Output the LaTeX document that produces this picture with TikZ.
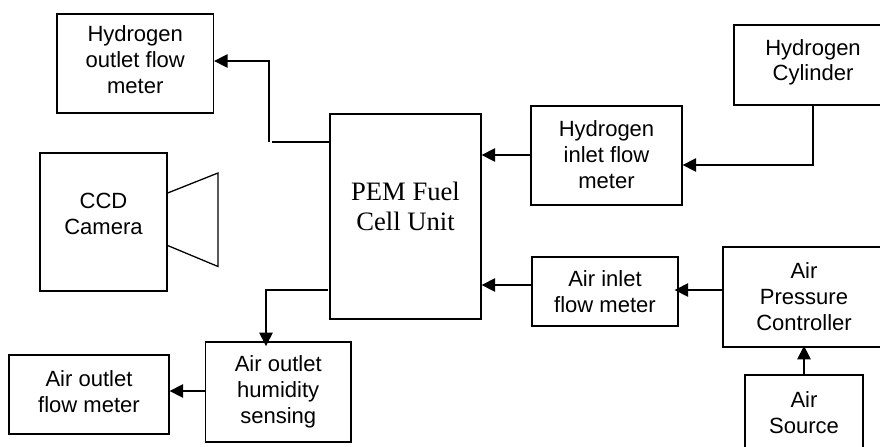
\documentclass[tikz,border=0pt]{standalone}
\usepackage{fontspec}
\setmainfont{Liberation Sans}
\newfontfamily\pemfont{Liberation Serif}
\usetikzlibrary{arrows.meta}

\begin{document}
\begin{tikzpicture}[
  x=0.03cm, y=-0.03cm,
  font=\fontsize{18.8}{22.1}\selectfont,
  blocco/.style={draw=black, line width=1.1pt, align=center, inner sep=0pt},
  linea/.style={draw=black, line width=1.1pt},
  freccia/.style={draw=black, line width=1.2pt, -{Triangle[length=11.5pt,width=11.5pt]}}
]
\clip (0,0) rectangle (880,446);

\node[blocco, minimum width=4.695cm, minimum height=2.97cm, text depth=6.5pt] (hout) at (135.25,63.5) {Hydrogen\\outlet flow\\meter};
\node[blocco, minimum width=3.81cm, minimum height=4.14cm, text depth=13.6pt] (ccd) at (103.5,222) {CCD\\Camera};
\node[blocco, minimum width=4.53cm, minimum height=6.15cm, text depth=17pt,
      font=\pemfont\fontsize{22.7}{25.5}\selectfont] (pem) at (405.5,216.5) {PEM Fuel\\Cell Unit};
\node[blocco, minimum width=4.53cm, minimum height=2.97cm, text depth=2pt] (hin) at (606.5,155.5) {Hydrogen\\inlet flow\\meter};
\node[blocco, minimum width=4.74cm, minimum height=2.4cm, text depth=8.5pt] (cyl) at (813,65) {Hydrogen\\Cylinder};
\node[blocco, minimum width=4.38cm, minimum height=2.07cm] (airin) at (605,291.5) {Air inlet\\flow meter};
\node[blocco, minimum width=4.86cm, minimum height=3cm] (press) at (804,297) {Air\\Pressure\\Controller};
\node[blocco, minimum width=3.54cm, minimum height=2.25cm] (source) at (804,412.5) {Air\\Source};
\node[blocco, minimum width=4.365cm, minimum height=3cm] (humid) at (278.25,392) {Air outlet\\humidity\\sensing};
\node[blocco, minimum width=4.8cm, minimum height=2.37cm, text depth=5pt] (airout) at (89,394.5) {Air outlet\\flow meter};

% camera lens
\draw[linea] (ccd.east |- 0,193) -- (218,173) -- (218,266.5) -- (ccd.east |- 0,245.5);

\coordinate (gapR) at (272,142);
\coordinate (gapL) at (269,142);
\coordinate (outstart) at (328,290);
\coordinate (outdrop) at (266,290);

\draw[linea] (pem.west |- gapR) -- (gapR);
\draw[freccia] (gapL) |- (hout.east |- 0,61);
\draw[freccia] (hin.west |- 0,155) -- (pem.east |- 0,155);
\draw[freccia] (cyl.south) |- (hin.east |- 0,165);
\draw[freccia] (airin.west |- 0,285) -- (pem.east |- 0,285);
\draw[freccia, shorten >=-3.4pt] (press.west |- 0,290) -- (airin.east |- 0,290);
\draw[freccia, shorten >=-1.5pt] (source.north) -- (press.south);
\draw[freccia, shorten >=-4pt] (outstart) -- (outdrop) -- (outdrop |- humid.north);
\draw[freccia] (humid.west |- 0,391) -- (airout.east |- 0,391);

\end{tikzpicture}
\end{document}
